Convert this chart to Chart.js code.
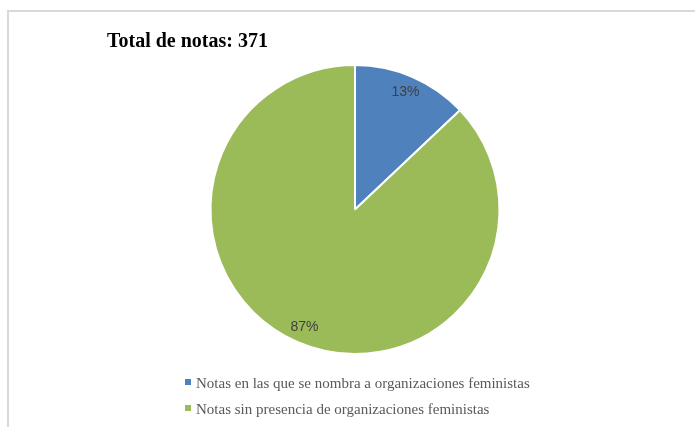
<!DOCTYPE html>
<html>
<head>
<meta charset="utf-8">
<script src="https://cdn.jsdelivr.net/npm/chart.js@4/dist/chart.umd.min.js"></script>
<style>
  html, body { margin: 0; padding: 0; background: #fff; }
  #wrap { position: relative; width: 695px; height: 427px; overflow: hidden; }
  #frame { position: absolute; left: 7px; top: 10px; width: 700px; height: 430px;
           border-left: 2px solid #d9d9d9; border-top: 2px solid #d9d9d9; box-sizing: border-box; }
  #title { position: absolute; left: 107px; top: 29px; font-family: "Liberation Serif", serif;
           font-weight: bold; font-size: 20px; color: #000; white-space: nowrap; }
  #legend { position: absolute; left: 185px; top: 374px; font-family: "Liberation Serif", serif;
            font-size: 15px; color: #595959; }
  #legend .item { height: 26px; line-height: 19px; white-space: nowrap; }
  #legend .box { display: inline-block; width: 6px; height: 6px; margin-right: 5px; vertical-align: 3px; }
  canvas { position: absolute; left: 0; top: 0; }
</style>
</head>
<body>
<div id="wrap">
  <div id="frame"></div>
  <canvas id="c" width="695" height="427"></canvas>
  <div id="title"></div>
  <div id="legend"></div>
</div>
<script>
const chartTitle = "Total de notas: 371";
const categories = [
  "Notas en las que se nombra a organizaciones feministas",
  "Notas sin presencia de organizaciones feministas"
];
const values = [48, 323];
const percentLabels = ["13%", "87%"];
const colors = ["#4f81bd", "#9bbb59"];

document.getElementById('title').textContent = chartTitle;
const legendEl = document.getElementById('legend');
categories.forEach((c, i) => {
  const d = document.createElement('div');
  d.className = 'item';
  const b = document.createElement('span');
  b.className = 'box';
  b.style.background = colors[i];
  d.appendChild(b);
  d.appendChild(document.createTextNode(c));
  legendEl.appendChild(d);
});

const labelPlugin = {
  id: 'pctLabels',
  afterDatasetsDraw(chart) {
    const ctx = chart.ctx;
    const meta = chart.getDatasetMeta(0);
    ctx.save();
    ctx.font = '14px "Liberation Sans", sans-serif';
    ctx.fillStyle = '#404040';
    ctx.textAlign = 'center';
    ctx.textBaseline = 'middle';
    meta.data.forEach((arc, i) => {
      const p = arc.getProps(['x', 'y', 'startAngle', 'endAngle', 'outerRadius'], true);
      const mid = (p.startAngle + p.endAngle) / 2;
      const r = p.outerRadius * 0.885;
      ctx.fillText(percentLabels[i], p.x + Math.cos(mid) * r, p.y + Math.sin(mid) * r);
    });
    ctx.restore();
  }
};

new Chart(document.getElementById('c'), {
  type: 'pie',
  data: {
    labels: categories,
    datasets: [{
      data: values,
      backgroundColor: colors,
      borderColor: '#ffffff',
      borderWidth: 2
    }]
  },
  options: {
    responsive: false,
    animation: false,
    layout: { padding: { left: 209, right: 194, top: 64, bottom: 72 } },
    plugins: { legend: { display: false }, tooltip: { enabled: false }, title: { display: false } }
  },
  plugins: [labelPlugin]
});
</script>
</body>
</html>
